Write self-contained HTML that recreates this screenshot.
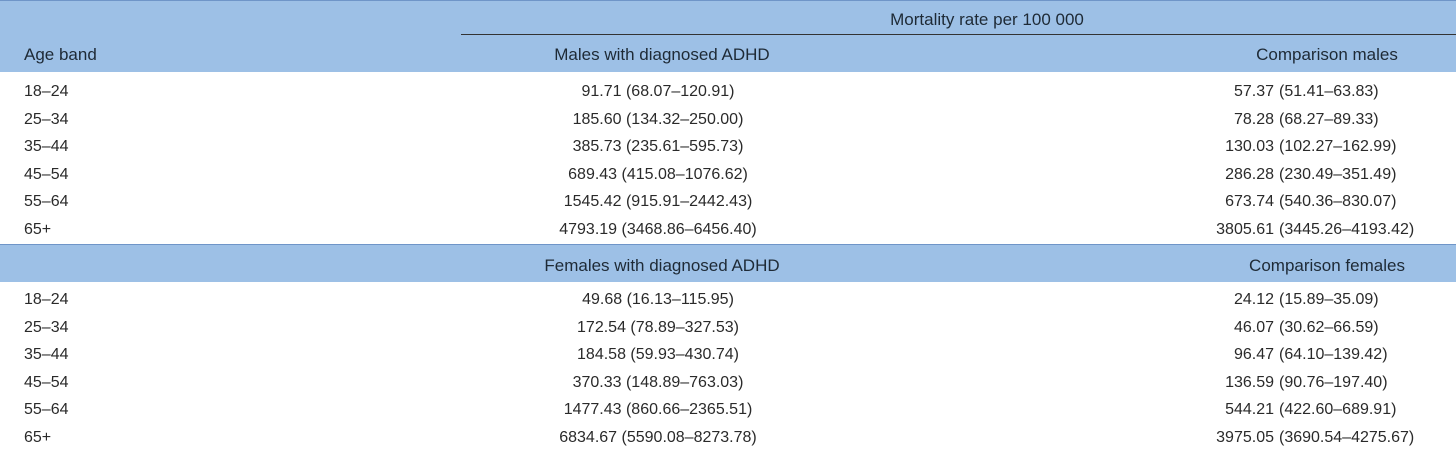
<!DOCTYPE html>
<html><head><meta charset="utf-8">
<style>
body{margin:0;width:1456px;height:466px;background:#fff;font-family:"Liberation Sans",sans-serif;font-size:16px;color:#2a2a2a;position:relative;overflow:hidden}
.band{position:absolute;left:0;width:1456px;background:#9dc0e6}
.t{position:absolute;white-space:nowrap;line-height:20px}
.h{color:#1e2a36;font-size:17px}
</style></head><body>
<div class="band" style="top:0;height:71px;border-top:1px solid #6f95c8"></div>
<div style="position:absolute;left:461px;top:34px;width:995px;height:1px;background:#333"></div>
<div class="t h" style="left:800px;width:374px;text-align:center;top:10px">Mortality rate per 100 000</div>
<div class="t h" style="left:24px;top:45px">Age band</div>
<div class="t h" style="left:462px;width:400px;text-align:center;top:45px">Males with diagnosed ADHD</div>
<div class="t h" style="left:1200px;width:254px;text-align:center;top:45px">Comparison males</div>
<div class="band" style="top:244px;height:37px;border-top:1px solid #6f95c8"></div>
<div class="t h" style="left:462px;width:400px;text-align:center;top:256px">Females with diagnosed ADHD</div>
<div class="t h" style="left:1200px;width:254px;text-align:center;top:256px">Comparison females</div>
<div id="rows"></div>
<script>
const ages=["18–24","25–34","35–44","45–54","55–64","65+"];
const maleAdhd=["91.71 (68.07–120.91)","185.60 (134.32–250.00)","385.73 (235.61–595.73)","689.43 (415.08–1076.62)","1545.42 (915.91–2442.43)","4793.19 (3468.86–6456.40)"];
const maleCmpVal=["57.37","78.28","130.03","286.28","673.74","3805.61"];
const maleCmpCi=["(51.41–63.83)","(68.27–89.33)","(102.27–162.99)","(230.49–351.49)","(540.36–830.07)","(3445.26–4193.42)"];
const femAdhd=["49.68 (16.13–115.95)","172.54 (78.89–327.53)","184.58 (59.93–430.74)","370.33 (148.89–763.03)","1477.43 (860.66–2365.51)","6834.67 (5590.08–8273.78)"];
const femCmpVal=["24.12","46.07","96.47","136.59","544.21","3975.05"];
const femCmpCi=["(15.89–35.09)","(30.62–66.59)","(64.10–139.42)","(90.76–197.40)","(422.60–689.91)","(3690.54–4275.67)"];
const root=document.getElementById('rows');
function mk(txt,style,name){const d=document.createElement('div');d.className='t';d.textContent=txt;d.style.cssText=style;


root.appendChild(d);}
function block(y0,adhd,cv,cc,pfx){
  ages.forEach((a,i)=>{const y=y0+i*27.6;
    mk(a,'left:24px;top:'+y+'px',pfx+'-age-'+i);
    mk(adhd[i],'left:458px;width:400px;text-align:center;top:'+y+'px',pfx+'-adhd-'+i);
    mk(cv[i],'left:1074px;width:200px;text-align:right;top:'+y+'px',pfx+'-cmp-rate-'+i);
    mk(cc[i],'left:1279px;top:'+y+'px',pfx+'-cmp-ci-'+i);
  });
}
block(82,maleAdhd,maleCmpVal,maleCmpCi,'male');
block(290,femAdhd,femCmpVal,femCmpCi,'female');
</script>
</body></html>
